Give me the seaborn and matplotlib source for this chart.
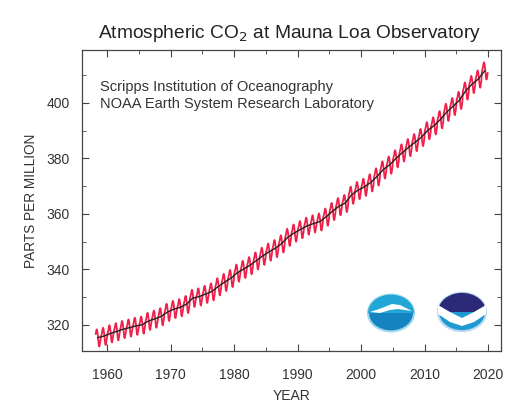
import numpy as np
import pandas as pd
import matplotlib
matplotlib.use("Agg")
import matplotlib.pyplot as plt
import seaborn as sns
from matplotlib.patches import Circle, Polygon, Wedge

# ---- data ----
years = list(range(1958, 2020))
annual_mean = [315.4, 315.97, 316.91, 317.64, 318.45, 318.99, 319.62, 320.04, 321.37, 322.18,
               323.05, 324.62, 325.68, 326.32, 327.46, 329.68, 330.19, 331.12, 332.03, 333.84,
               335.41, 336.84, 338.76, 340.12, 341.48, 343.15, 344.85, 346.35, 347.61, 349.31,
               351.69, 353.20, 354.45, 355.70, 356.54, 357.21, 358.96, 360.97, 362.74, 363.88,
               366.84, 368.54, 369.71, 371.32, 373.45, 375.98, 377.70, 379.98, 382.09, 384.02,
               385.83, 387.64, 390.10, 391.85, 394.06, 396.74, 398.81, 401.01, 404.41, 406.76,
               408.72, 411.66]
months = list(range(1, 13))
seasonal_offset = [-0.3, 0.5, 1.3, 2.5, 3.0, 2.3, 0.8, -1.2, -2.9, -3.2, -2.0, -0.8]

rows = []
for y, m_val in zip(years, annual_mean):
    for mo, off in zip(months, seasonal_offset):
        if y == 1958 and mo < 3:
            continue
        rows.append((y + (mo - 0.5) / 12.0, m_val + off))
monthly = pd.DataFrame(rows, columns=["year", "ppm"])
annual = pd.DataFrame({"year": [y + 0.5 for y in years], "ppm": annual_mean})

# ---- figure ----
sns.set_style("ticks")
plt.rcParams["font.family"] = ["Liberation Sans", "DejaVu Sans"]
fig = plt.figure(figsize=(5.06, 4.04), dpi=100)
ax = fig.add_axes([82 / 506, 1 - 351 / 404, (501 - 82) / 506, (351 - 50) / 404])

sns.lineplot(data=monthly, x="year", y="ppm", ax=ax, color="#f0204a", lw=1.3, sort=False)
sns.lineplot(data=annual, x="year", y="ppm", ax=ax, color="#222222", lw=1.0, sort=False)

ax.set_xlim(1956.05, 2022.05)
ax.set_ylim(310.6, 419.1)
ax.set_xticks([1960, 1970, 1980, 1990, 2000, 2010, 2020])
ax.set_xticks(np.arange(1960, 2021, 5), minor=True)
ax.set_yticks([320, 340, 360, 380, 400])
ax.set_yticks(np.arange(320, 420, 10), minor=True)
ax.tick_params(which="both", direction="in", top=True, right=True, color="#444444",
               labelsize=10, labelcolor="#333333")
ax.tick_params(axis="x", pad=12)
ax.tick_params(axis="y", pad=9)
ax.tick_params(which="major", length=5, width=0.8)
ax.tick_params(which="minor", length=3, width=0.6)
for s in ax.spines.values():
    s.set_color("#444444")
    s.set_linewidth(0.9)
ax.set_xlabel("YEAR", fontsize=10, color="#333333", labelpad=5)
ax.set_ylabel("PARTS PER MILLION", fontsize=9.8, color="#333333", labelpad=6)

fig.text(290 / 506, 1 - 33 / 404, "Atmospheric CO$_2$ at Mauna Loa Observatory",
         ha="center", va="center", fontsize=13.8, color="#222222")
for t, yy in [("Scripps Institution of Oceanography", 87),
              ("NOAA Earth System Research Laboratory", 104)]:
    fig.text(100 / 506, 1 - yy / 404, t, ha="left", va="center", fontsize=10.5, color="#333333")

# ---- logos (figure pixel coords) ----
tr = fig.transFigure
def P(x, y):
    return (x / 506, 1 - y / 404)

# Scripps logo
c1 = Circle(P(391, 313), 23 / 506, transform=tr, facecolor="#1583c0", edgecolor="#9fd6ee", lw=1.5)
fig.patches.append(c1)
c1b = Wedge(P(391, 313), 23 / 506, 0, 180, transform=tr, facecolor="#22a6d6", edgecolor="none")
fig.patches.append(c1b)
wave = Polygon([P(370, 312), P(382, 308), P(392, 304), P(400, 305), P(412, 311),
                P(398, 309), P(390, 310), P(380, 313)], closed=True, transform=tr,
               facecolor="white", edgecolor="none")
fig.patches.append(wave)
# NOAA logo
c2 = Circle(P(462, 312), 24 / 506, transform=tr, facecolor="#1e9ad2", edgecolor="#b9d9f0", lw=1.5)
fig.patches.append(c2)
c2b = Wedge(P(462, 312), 24 / 506, 0, 180, transform=tr, facecolor="#2c2a78", edgecolor="none")
fig.patches.append(c2b)
gull = Polygon([P(438, 305), P(450, 312), P(462, 318), P(474, 312), P(486, 305),
                P(486, 314), P(474, 322), P(462, 326), P(450, 322), P(438, 314)], closed=True,
               transform=tr, facecolor="white", edgecolor="none")
fig.patches.append(gull)

fig.savefig("out.png", dpi=100)
